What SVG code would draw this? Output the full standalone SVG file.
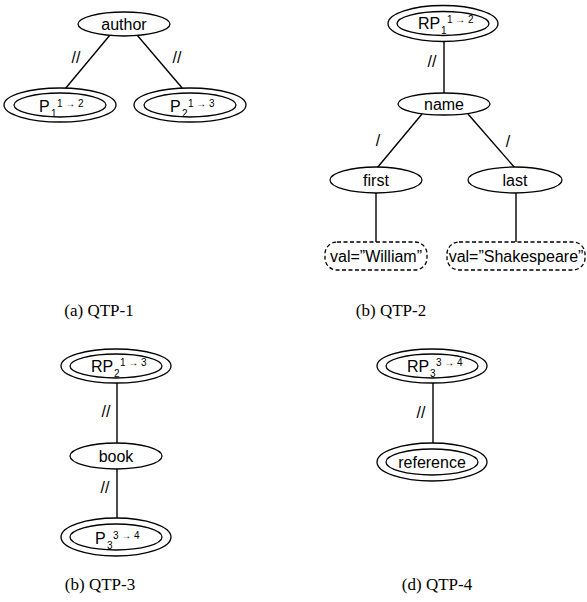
<svg xmlns="http://www.w3.org/2000/svg" width="587" height="602" viewBox="0 0 587 602">
<style>
.n{fill:#fff;stroke:#000;stroke-width:1.3}
.d{fill:#fff;stroke:#000;stroke-width:1.3;stroke-dasharray:4 2.5}
.e{stroke:#000;stroke-width:1.4;fill:none}
.t{font-family:"Liberation Sans",Arial,sans-serif;font-size:16px;fill:#000}
.c{text-anchor:middle}
.s{font-size:10px}
.u{font-size:10px}
.cap{font-family:"Liberation Serif","Times New Roman",serif;font-size:17px;fill:#000;text-anchor:middle}
</style>
<g id="connectors">
<line class="e" x1="110" y1="35" x2="65" y2="89"/>
<line class="e" x1="137" y1="35" x2="183" y2="89"/>
<line class="e" x1="444" y1="41" x2="444" y2="93"/>
<line class="e" x1="422" y1="114" x2="377" y2="168"/>
<line class="e" x1="468" y1="114" x2="515" y2="168"/>
<line class="e" x1="376" y1="193" x2="376" y2="242"/>
<line class="e" x1="516" y1="193" x2="516" y2="242"/>
<line class="e" x1="117" y1="383" x2="117" y2="443"/>
<line class="e" x1="117" y1="469" x2="117" y2="519"/>
<line class="e" x1="433" y1="383" x2="433" y2="444"/>
<text class="t c" x="76" y="63">//</text>
<text class="t c" x="177" y="63">//</text>
<text class="t c" x="432" y="67">//</text>
<text class="t c" x="378" y="146">/</text>
<text class="t c" x="508" y="147">/</text>
<text class="t c" x="106" y="417">//</text>
<text class="t c" x="105" y="493">//</text>
<text class="t c" x="421" y="418">//</text>
</g>
<g id="author">
<ellipse class="n" cx="124" cy="24" rx="46" ry="12"/>
<text class="t c" x="124" y="30">author</text>
</g>
<g id="P1">
<ellipse class="n" cx="60" cy="105" rx="56" ry="17"/>
<ellipse class="n" cx="60" cy="105" rx="46" ry="12"/>
<text class="t"><tspan x="39" y="112">P</tspan><tspan class="s" x="51" y="117">1</tspan><tspan class="u" x="57" y="107">1 → 2</tspan></text>
</g>
<g id="P2">
<ellipse class="n" cx="190" cy="105" rx="56" ry="17"/>
<ellipse class="n" cx="190" cy="105" rx="46" ry="12"/>
<text class="t"><tspan x="170" y="112">P</tspan><tspan class="s" x="182" y="117">2</tspan><tspan class="u" x="188" y="107">1 → 3</tspan></text>
</g>
<g id="RP1">
<ellipse class="n" cx="443" cy="23.5" rx="55" ry="18"/>
<ellipse class="n" cx="443" cy="23.5" rx="46" ry="12"/>
<text class="t"><tspan x="418" y="29">RP</tspan><tspan class="s" x="441" y="34">1</tspan><tspan class="u" x="447" y="23">1 → 2</tspan></text>
</g>
<g id="name">
<ellipse class="n" cx="444" cy="104" rx="46" ry="11"/>
<text class="t c" x="444" y="110">name</text>
</g>
<g id="first">
<ellipse class="n" cx="376" cy="180" rx="46" ry="13"/>
<text class="t c" x="376" y="186">first</text>
</g>
<g id="last">
<ellipse class="n" cx="515" cy="180" rx="47" ry="13"/>
<text class="t c" x="515" y="186">last</text>
</g>
<g id="valWilliam">
<rect class="d" x="325" y="242" width="102" height="28" rx="12"/>
<text class="t c" x="376" y="262">val=”William”</text>
</g>
<g id="valShakespeare">
<rect class="d" x="447" y="242" width="138" height="28" rx="12"/>
<text class="t c" x="516" y="262">val=”Shakespeare”</text>
</g>
<g id="RP2">
<ellipse class="n" cx="116" cy="366" rx="55" ry="17"/>
<ellipse class="n" cx="116" cy="366" rx="46" ry="12"/>
<text class="t"><tspan x="91" y="372">RP</tspan><tspan class="s" x="114" y="377">2</tspan><tspan class="u" x="120" y="366">1 → 3</tspan></text>
</g>
<g id="book">
<ellipse class="n" cx="116" cy="456" rx="46" ry="13"/>
<text class="t c" x="116" y="462">book</text>
</g>
<g id="P3">
<ellipse class="n" cx="116" cy="537" rx="55" ry="19"/>
<ellipse class="n" cx="116" cy="537" rx="46" ry="13"/>
<text class="t"><tspan x="95" y="544">P</tspan><tspan class="s" x="107" y="549">3</tspan><tspan class="u" x="113" y="539">3 → 4</tspan></text>
</g>
<g id="RP3">
<ellipse class="n" cx="432" cy="366" rx="55" ry="17"/>
<ellipse class="n" cx="432" cy="366" rx="46" ry="12"/>
<text class="t"><tspan x="407" y="372">RP</tspan><tspan class="s" x="430" y="377">3</tspan><tspan class="u" x="436" y="366">3 → 4</tspan></text>
</g>
<g id="reference">
<ellipse class="n" cx="432" cy="462" rx="55" ry="19"/>
<ellipse class="n" cx="432" cy="462" rx="46" ry="13"/>
<text class="t c" x="432" y="468">reference</text>
</g>
<g id="captions">
<text class="cap" x="99" y="316">(a) QTP-1</text>
<text class="cap" x="391" y="316">(b) QTP-2</text>
<text class="cap" x="100" y="590">(b) QTP-3</text>
<text class="cap" x="437" y="590">(d) QTP-4</text>
</g>
</svg>
